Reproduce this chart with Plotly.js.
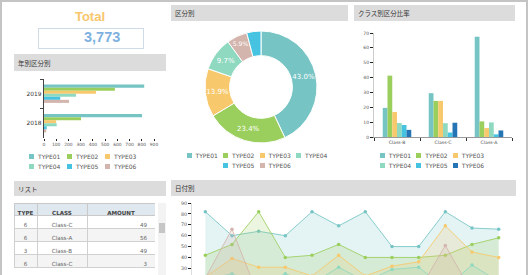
<!DOCTYPE html>
<html><head><meta charset="utf-8">
<script src="https://cdn.plot.ly/plotly-3.0.1.min.js"></script>
<style>
html,body{margin:0;padding:0;width:530px;height:275px;overflow:hidden;background:#fff;font-family:"DejaVu Sans",sans-serif;}
.frame{position:absolute;left:0;top:0;width:524px;height:330px;border:2px solid #c4c4c4;border-bottom:none;}
.hdr{position:absolute;background:#dcdcdc;color:#333;font-family:"Noto Sans CJK JP",sans-serif;font-size:6.5px;padding-left:4px;box-sizing:border-box;display:flex;align-items:center;}
.pl{position:absolute;}
.leg{position:absolute;display:flex;flex-wrap:wrap;justify-content:center;font-size:6px;color:#555;font-family:"DejaVu Sans",sans-serif;}
.leg span{display:inline-flex;align-items:center;height:10.5px;white-space:nowrap;}
.leg i{display:inline-block;width:5px;height:5px;margin-right:4px;}
#total{position:absolute;left:0;top:9px;width:180px;text-align:center;font:bold 13px "Liberation Sans",Arial,sans-serif;color:#f8c66c;}
#tbox{position:absolute;left:38px;top:28px;width:104px;height:19px;border:1px solid #cfdbe6;}
#tval{position:absolute;left:45px;top:0;height:19px;line-height:19px;white-space:nowrap;font:bold 14.5px "Liberation Sans",Arial,sans-serif;color:#7eb1e0;}
#sb{position:absolute;left:158px;top:203px;width:8px;height:80px;background:#f3f3f3;}
#sbt{position:absolute;left:159px;top:223px;width:6px;height:10px;background:#c6c6c6;}
</style></head>
<body>
<div class="frame"></div>

<div id="total">Total</div>
<div id="tbox"><div id="tval"></div></div>

<div class="hdr" style="left:14px;top:54px;width:152px;height:17px;">年別区分別</div>
<div class="hdr" style="left:171px;top:5px;width:177px;height:16px;">区分別</div>
<div class="hdr" style="left:354px;top:5px;width:161px;height:16px;">クラス別区分比率</div>
<div class="hdr" style="left:14px;top:181px;width:152px;height:15px;">リスト</div>
<div class="hdr" style="left:171px;top:180px;width:345px;height:16px;">日付別</div>

<div id="hbar" class="pl" style="left:0px;top:72px;width:170px;height:105px;"></div>
<div id="leg1" class="leg" style="left:29px;top:151px;width:114px;"></div>

<div id="donut" class="pl" style="left:171px;top:25px;width:180px;height:124px;"></div>
<div id="leg2" class="leg" style="left:186px;top:150px;width:147px;"></div>

<div id="gbar" class="pl" style="left:340px;top:25px;width:190px;height:130px;"></div>
<div id="leg3" class="leg" style="left:362px;top:150px;width:145px;"></div>

<div id="tbl" class="pl" style="left:14px;top:203px;width:141px;height:72px;"></div>
<div id="sb"></div><div id="sbt"></div>

<div id="area" class="pl" style="left:165px;top:197px;width:365px;height:132px;"></div>

<script>
// ---------- data ----------
const types = ['TYPE01','TYPE02','TYPE03','TYPE04','TYPE05','TYPE06'];
const typeColors = ['#76c4c4','#9bcf5d','#f7c96c','#8fd9c0','#45c3e0','#d4b5ad'];
const classTypeColors = ['#76c4c4','#9bcf5d','#f7c96c','#8fd9c0','#45c3e0','#2474b6'];

const years = ['2019','2018'];
const amount2019 = [820, 580, 425, 262, 133, 205];
const amount2018 = [802, 303, 99, 104, 22, 18];

const classes = ['Class-B','Class-C','Class-A'];
const ratioClassB = [19.6, 41.3, 16.8, 9.4, 8.1, 4.8];
const ratioClassC = [29.5, 24.3, 24.3, 9.3, 3.0, 9.6];
const ratioClassA = [67.5, 10.5, 6.0, 9.8, 1.8, 4.4];

const tblHeader = ['TYPE','CLASS','AMOUNT'];
const tblType = ['6','6','3','6'];
const tblClass = ['Class-C','Class-A','Class-B','Class-C'];
const tblAmount = [49, 56, 49, 3];

const months = ['1月','2月','3月','4月','5月','6月','7月','8月','9月','10月','11月','12月'];
const dailyTicks = [30, 40, 50, 60, 70, 80, 90];
const daily01 = [82, 60, 64, 60, 82, 69, 82, 50, 50, 82, 67, 66];
const daily02 = [42, 52, 82, 40, 42, 52, 40, 40, 40, 42, 52, 58];
const daily03 = [22, 39, 31, 31, 23, 42, 23, 32, 36, 69, 45, 40];
const daily04 = [20, 25, 15, 25, 16, 31, 18, 29, 31, 12, 33, 18];
const daily05 = [8, 12, 6, 10, 14, 9, 7, 12, 10, 6, 11, 9];
const daily06 = [21, 66, 4, 8, 5, 10, 6, 4, 9, 51, 8, 5];

// ---------- helpers ----------
const FONT = 'DejaVu Sans, sans-serif';
const cfg = {staticPlot:true, displayModeBar:false};
function legend(id, names, cols){
  const el = document.getElementById(id);
  const w = id==='leg1' ? 38 : 36.5;
  names.forEach((n,i)=>{
    const s = document.createElement('span');
    s.style.width = w+'px';
    s.innerHTML = '<i style="background:'+cols[i]+'"></i>'+n;
    el.appendChild(s);
  });
}
function rgba(hex,a){
  const r=parseInt(hex.substr(1,2),16), g=parseInt(hex.substr(3,2),16), b=parseInt(hex.substr(5,2),16);
  return 'rgba('+r+','+g+','+b+','+a+')';
}

// ---------- total ----------
const typeTotals = types.map((t,i)=>amount2019[i]+amount2018[i]);
const grand = typeTotals.reduce((a,b)=>a+b,0);
document.getElementById('tval').textContent = grand.toLocaleString('en-US');

// ---------- horizontal bars ----------
Plotly.newPlot('hbar', types.map((t,i)=>({
  type:'bar', orientation:'h', name:t, y:years, x:[amount2019[i], amount2018[i]],
  marker:{color:typeColors[i]}
})), {
  width:170, height:105, margin:{l:44,r:16,t:7,b:39},
  barmode:'group', bargap:0.38, bargroupgap:0, showlegend:false,
  paper_bgcolor:'rgba(0,0,0,0)', plot_bgcolor:'rgba(0,0,0,0)',
  font:{family:FONT},
  xaxis:{range:[0,900], dtick:100, ticks:'outside', ticklen:2, tickcolor:'#222', tickwidth:1,
         tickfont:{size:4.4,color:'#555'}, showgrid:false, zeroline:false, showline:false},
  yaxis:{type:'category', categoryorder:'array', categoryarray:years, autorange:'reversed',
         showline:true, linecolor:'#444', linewidth:1.3, ticks:'outside', tickson:'boundaries',
         ticklen:3, tickcolor:'#444', tickfont:{size:5.9,color:'#333'}, showgrid:false, zeroline:false}
}, cfg);
legend('leg1', types, typeColors);

// ---------- donut ----------
Plotly.newPlot('donut', [{
  type:'pie', hole:0.56, labels:types, values:typeTotals, sort:true, direction:'clockwise', rotation:0,
  marker:{colors:typeColors, line:{color:'#fff', width:1}},
  textposition:'inside', insidetextorientation:'horizontal',
  texttemplate: typeTotals.map(v=> v/grand < 0.05 ? '' : '%{percent:.1%}'),
  textfont:{family:FONT, size:7, color:'#fff'}
}], {
  width:180, height:124, margin:{l:0,r:0,t:6,b:6}, showlegend:false,
  paper_bgcolor:'rgba(0,0,0,0)', font:{family:FONT}
}, cfg);
legend('leg2', types, typeColors);

// ---------- grouped bars by class ----------
const classRatios = types.map((t,i)=>[ratioClassB[i], ratioClassC[i], ratioClassA[i]]);
Plotly.newPlot('gbar', types.map((t,i)=>({
  type:'bar', name:t, x:classes, y:classRatios[i], marker:{color:classTypeColors[i]}
})), {
  width:190, height:130, margin:{l:34,r:18,t:8,b:18},
  barmode:'group', bargap:0.38, bargroupgap:0, showlegend:false,
  paper_bgcolor:'rgba(0,0,0,0)', plot_bgcolor:'rgba(0,0,0,0)', font:{family:FONT},
  yaxis:{range:[0,70], dtick:10, ticks:'outside', ticklen:3, tickcolor:'#222', showline:true, linecolor:'#ccc',
         tickfont:{size:4.5,color:'#555'}, showgrid:false, zeroline:false},
  xaxis:{type:'category', showline:true, linecolor:'#999', ticks:'outside', tickson:'boundaries', ticklen:3,
         tickcolor:'#333', tickfont:{size:4.6,color:'#555'}, showgrid:false, zeroline:false}
}, cfg);
legend('leg3', types, classTypeColors);

// ---------- table ----------
const rowFill = tblType.map((v,i)=> i%2 ? '#f4f4f4' : '#ffffff');
Plotly.newPlot('tbl', [{
  type:'table', columnwidth:[23,50,68],
  header:{values:tblHeader, align:'center', height:12,
          fill:{color:'#dfe7ef'}, line:{color:'#c9c9c9', width:1},
          font:{family:FONT, size:5.6, color:'#444', weight:'bold'}},
  cells:{values:[tblType, tblClass, tblAmount], align:['center','center','right'], height:13,
         fill:{color:[rowFill,rowFill,rowFill]}, line:{color:'#d0d0d0', width:1},
         font:{family:FONT, size:5.6, color:'#666'}}
}], {width:141, height:72, margin:{l:0,r:0,t:0,b:0}, paper_bgcolor:'rgba(0,0,0,0)', font:{family:FONT}}, cfg);

// ---------- area by date ----------
const dailySeries = [daily01, daily02, daily03, daily04, daily05, daily06];
Plotly.newPlot('area', types.map((t,i)=>({
  type:'scatter', mode:'lines+markers', name:t, x:months, y:dailySeries[i],
  fill:'tozeroy', fillcolor:rgba(typeColors[i], 0.2),
  line:{color:rgba(typeColors[i],0.85), width:1},
  marker:{color:typeColors[i], size:3.5}
})), {
  width:365, height:132, margin:{l:27,r:17.6,t:6,b:28}, showlegend:false,
  paper_bgcolor:'rgba(0,0,0,0)', plot_bgcolor:'rgba(0,0,0,0)', font:{family:FONT},
  xaxis:{type:'category', range:[-0.5,11.5], showgrid:false, zeroline:false, showline:false,
         showticklabels:false},
  yaxis:{range:[0,90], tickvals:dailyTicks, ticks:'outside', ticklen:3, tickcolor:'#222', showline:true, linecolor:'#ddd',
         tickfont:{size:4.8,color:'#555'}, showgrid:false, zeroline:false}
}, cfg);
</script>
</body></html>
